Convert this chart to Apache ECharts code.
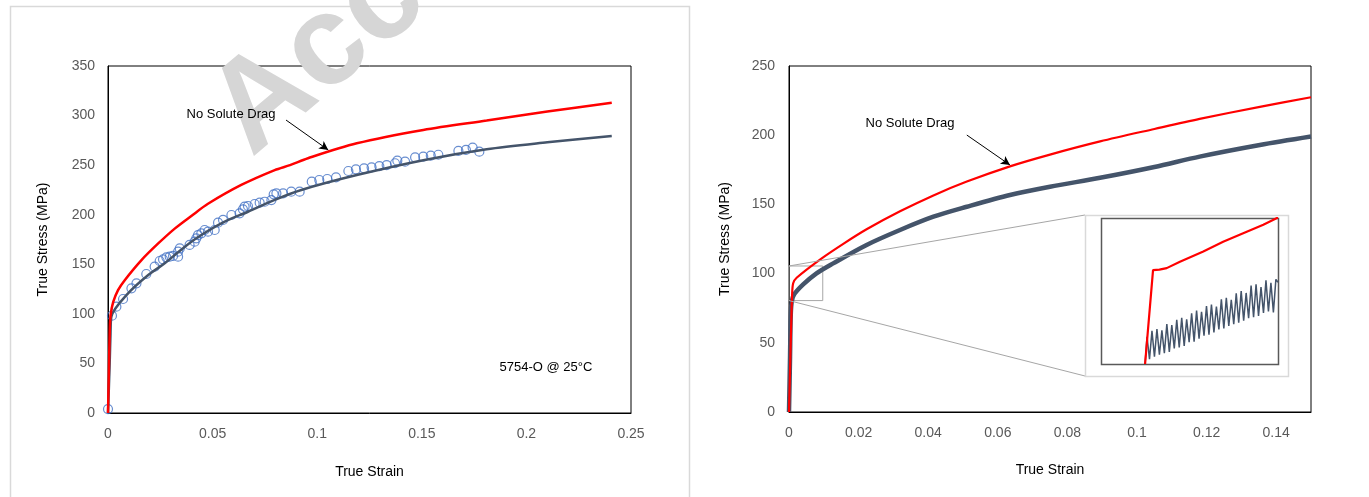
<!DOCTYPE html>
<html>
<head>
<meta charset="utf-8">
<script src="https://cdn.jsdelivr.net/npm/echarts@6/dist/echarts.min.js"></script>
<style>
  html, body { margin: 0; padding: 0; background: #fff; }
  #chart { width: 1369px; height: 497px; }
</style>
</head>
<body>
<div id="chart"></div>
<script>
// ---- Left panel: 5754-O at 25 C (strain, stress in MPa) ----
const leftNoDrag = [
  [0, 0], [0.0004, 40], [0.0008, 80], [0.0012, 98], [0.0025, 112], [0.0048, 124],
  [0.008, 134], [0.0159, 154], [0.024, 171], [0.0319, 186], [0.04, 199], [0.0478, 211],
  [0.0637, 230], [0.0797, 245], [0.087, 250], [0.0956, 257], [0.1189, 272],
  [0.1507, 285.5], [0.181, 295], [0.21, 304], [0.2408, 313]
];
const leftModel = [
  [0, 0], [0.0008, 50], [0.0012, 80], [0.0016, 97], [0.0096, 120.7], [0.0191, 139],
  [0.0271, 151], [0.0366, 167.5], [0.0446, 179.5], [0.0558, 193], [0.0669, 203],
  [0.0797, 215], [0.0924, 225], [0.1189, 240], [0.1507, 255], [0.181, 266],
  [0.21, 273], [0.2408, 279.5]
];
const leftMeasured = [
  [0, 4], [0.0019, 98.2], [0.004, 107.2], [0.0072, 115], [0.0112, 125.8], [0.0136, 130.8],
  [0.0183, 140.2], [0.0223, 147.6], [0.0247, 153.3], [0.0263, 155], [0.0279, 157],
  [0.0295, 157.7], [0.0311, 158.4], [0.0335, 162.7], [0.0343, 166], [0.0335, 157.7],
  [0.039, 169.5], [0.0414, 172.8], [0.0422, 176.2], [0.043, 179.5], [0.0446, 181.2],
  [0.0462, 184.6], [0.0478, 182.9], [0.051, 184.6], [0.0526, 192], [0.055, 194.7],
  [0.059, 199.7], [0.0629, 201.4], [0.0645, 205.4], [0.0653, 208.1], [0.0669, 208.8],
  [0.0701, 210.8], [0.0725, 212.1], [0.0749, 213.1], [0.0781, 214.8], [0.0792, 220.6],
  [0.0805, 221.6], [0.0837, 221.6], [0.0876, 223.2], [0.0916, 223.2], [0.0974, 233.3],
  [0.101, 235], [0.1048, 236], [0.109, 237.7], [0.1149, 244.1], [0.1185, 245.8],
  [0.1224, 246.8], [0.126, 247.8], [0.1297, 249.1], [0.1332, 250.1], [0.1372, 251.9],
  [0.1383, 254.5], [0.142, 253.5], [0.1468, 257.9], [0.1507, 258.5], [0.1543, 259.5],
  [0.1579, 260.5], [0.1675, 264.3], [0.1711, 265.3], [0.1743, 267.6], [0.1775, 263.6]
];

// ---- Right panel (strain, stress in MPa) ----
const rightNoDrag = [
  [0, 0], [0.0003, 30], [0.0006, 60], [0.0009, 85], [0.0012, 93], [0.0022, 97],
  [0.0094, 111], [0.0156, 121.5], [0.0223, 132], [0.0319, 145], [0.0415, 156.5],
  [0.0511, 166.5], [0.0635, 177.5], [0.075, 186], [0.0894, 195.5], [0.105, 204.5],
  [0.118, 211.8], [0.1353, 220.5], [0.15, 227.4]
];
const rightMeasured = [
  [0, 0], [0.0003, 40], [0.0005, 70], [0.0008, 80], [0.0015, 85], [0.004, 92],
  [0.0079, 100.2], [0.0127, 107.4], [0.0223, 120.7], [0.0319, 131.5], [0.0415, 141.1],
  [0.0511, 148.3], [0.0635, 156.8], [0.075, 162.8], [0.0894, 169.2], [0.105, 177],
  [0.118, 184.5], [0.1353, 192.9], [0.15, 199]
];

// ---- Inset: early-yield detail of the right panel ----
const insetNoDrag = [
  [0.00249, 80], [0.00294, 99.3], [0.0033, 99.4], [0.00371, 99.7], [0.00446, 101],
  [0.00578, 103.1], [0.0069, 105.1], [0.008, 106.8], [0.00917, 108.6], [0.01, 110.1]
];
const insetMeasured = [
  [0.00249, 80], [0.0026, 85.6], [0.00274, 81.0], [0.00288, 86.8], [0.00302, 81.5],
  [0.00316, 87.2], [0.0033, 81.9], [0.00344, 86.9], [0.00358, 82.2], [0.00372, 88.2],
  [0.00386, 82.5], [0.004, 88.0], [0.00414, 83.2], [0.00428, 89.1], [0.00442, 83.4],
  [0.00456, 89.5], [0.0047, 83.7], [0.00484, 89.2], [0.00498, 84.5], [0.00512, 90.4],
  [0.00526, 84.6], [0.0054, 91.0], [0.00554, 85.2], [0.00568, 90.7], [0.00582, 85.8],
  [0.00596, 91.9], [0.0061, 86.0], [0.00624, 92.2], [0.00638, 86.5], [0.00652, 91.8],
  [0.00666, 87.1], [0.0068, 93.3], [0.00694, 87.3], [0.00708, 93.6], [0.00722, 87.8],
  [0.00736, 93.2], [0.0075, 88.2], [0.00764, 94.5], [0.00778, 88.5], [0.00792, 95.0],
  [0.00806, 88.9], [0.0082, 94.6], [0.00834, 89.4], [0.00848, 96.1], [0.00862, 89.6],
  [0.00876, 96.4], [0.0089, 89.9], [0.00904, 95.8], [0.00918, 90.5], [0.00932, 97.2],
  [0.00946, 90.8], [0.0096, 96.7], [0.00974, 90.6], [0.00988, 97.4], [0.01, 96.8]
];

// Zoom window on the right panel that the inset enlarges
const zoomWindow = { strain: [0, 0.0097], stress: [80.5, 105.5] };

const FONT = '"Liberation Sans", Arial, sans-serif';
const RED = '#FF0000';
const SLATE = '#44546A';
const BLUE = '#4472C4';

function valueAxis(opts) {
  return Object.assign({
    type: 'value',
    axisLine: { show: true, onZero: false, lineStyle: { color: '#000', width: 1 } },
    axisTick: { show: false },
    splitLine: { show: false },
    axisLabel: { color: '#595959', fontSize: 14, fontFamily: FONT },
    nameLocation: 'middle',
    nameTextStyle: { color: '#000', fontSize: 14, fontFamily: FONT }
  }, opts);
}

const chart = echarts.init(document.getElementById('chart'), null, { renderer: 'canvas' });

const option = {
  animation: false,
  backgroundColor: '#fff',
  grid: [
    { left: 108, top: 66, width: 523, height: 347, show: true, borderColor: '#000', borderWidth: 1, backgroundColor: 'transparent' },
    { left: 789, top: 66, width: 522, height: 346, show: true, borderColor: '#000', borderWidth: 1, backgroundColor: 'transparent' },
    { left: 1101, top: 218, width: 177, height: 146, show: false }
  ],
  xAxis: [
    valueAxis({ gridIndex: 0, min: 0, max: 0.25, interval: 0.05, name: 'True Strain', nameGap: 52,
      axisLabel: { color: '#595959', fontSize: 14, fontFamily: FONT, margin: 14 } }),
    valueAxis({ gridIndex: 1, min: 0, max: 0.15, interval: 0.02, name: 'True Strain', nameGap: 51,
      axisLabel: { color: '#595959', fontSize: 14, fontFamily: FONT, margin: 14,
        formatter: v => (v > 0.145 ? '' : String(+v.toFixed(2))) } }),
    { type: 'value', gridIndex: 2, min: 0, max: 0.01, show: false }
  ],
  yAxis: [
    valueAxis({ gridIndex: 0, min: 0, max: 350, interval: 50, name: 'True Stress (MPa)', nameGap: 58,
      axisLabel: { color: '#595959', fontSize: 14, fontFamily: FONT, margin: 13 } }),
    valueAxis({ gridIndex: 1, min: 0, max: 250, interval: 50, name: 'True Stress (MPa)', nameGap: 57,
      axisLabel: { color: '#595959', fontSize: 14, fontFamily: FONT, margin: 14 } }),
    { type: 'value', gridIndex: 2, min: 80, max: 110, show: false }
  ],
  series: [
    {
      name: 'Measured', type: 'scatter', xAxisIndex: 0, yAxisIndex: 0, data: leftMeasured,
      symbol: 'circle', symbolSize: 9, z: 2,
      itemStyle: { color: 'rgba(0,0,0,0)', borderColor: BLUE, borderWidth: 1.2 }
    },
    {
      name: 'Model', type: 'line', xAxisIndex: 0, yAxisIndex: 0, data: leftModel,
      showSymbol: false, smooth: 0.3, z: 3, lineStyle: { color: SLATE, width: 2.5 }
    },
    {
      name: 'No Solute Drag', type: 'line', xAxisIndex: 0, yAxisIndex: 0, data: leftNoDrag,
      showSymbol: false, smooth: 0.3, z: 4, lineStyle: { color: RED, width: 2.5 },
      markLine: {
        silent: true, symbol: ['none', 'arrow'], symbolSize: [7, 9],
        lineStyle: { color: '#000', width: 1, type: 'solid' }, label: { show: false },
        data: [[{ coord: [0.0851, 295.5] }, { coord: [0.1053, 265.3] }]]
      }
    },
    {
      name: 'Measured', type: 'line', xAxisIndex: 1, yAxisIndex: 1, data: rightMeasured,
      showSymbol: false, smooth: 0.3, z: 3, lineStyle: { color: SLATE, width: 4.5 },
      markArea: {
        silent: true,
        itemStyle: { color: 'rgba(0,0,0,0)', borderColor: '#a6a6a6', borderWidth: 1 },
        data: [[{ coord: [zoomWindow.strain[0], zoomWindow.stress[1]] },
                { coord: [zoomWindow.strain[1], zoomWindow.stress[0]] }]]
      }
    },
    {
      name: 'No Solute Drag', type: 'line', xAxisIndex: 1, yAxisIndex: 1, data: rightNoDrag,
      showSymbol: false, smooth: 0.3, z: 4, lineStyle: { color: RED, width: 2.2 },
      markLine: {
        silent: true, symbol: ['none', 'arrow'], symbolSize: [7, 9],
        lineStyle: { color: '#000', width: 1, type: 'solid' }, label: { show: false },
        data: [[{ coord: [0.0511, 200.1] }, { coord: [0.0635, 178.5] }]]
      }
    },
    {
      name: 'Measured (detail)', type: 'line', xAxisIndex: 2, yAxisIndex: 2, data: insetMeasured,
      showSymbol: false, z: 20, lineStyle: { color: SLATE, width: 1.5 }
    },
    {
      name: 'No Solute Drag (detail)', type: 'line', xAxisIndex: 2, yAxisIndex: 2, data: insetNoDrag,
      showSymbol: false, z: 21, lineStyle: { color: RED, width: 2.2 }
    }
  ]
};

chart.setOption(option);

// Connector lines from the zoom window to the inset box
const zTop = chart.convertToPixel({ gridIndex: 1 }, [zoomWindow.strain[0], zoomWindow.stress[1]]);
const zBot = chart.convertToPixel({ gridIndex: 1 }, [zoomWindow.strain[0], zoomWindow.stress[0]]);
const inset = { x: 1085, y: 215, w: 203, h: 161 };

chart.setOption({
  graphic: [
    // panel frame
    { type: 'rect', z: 0, silent: true,
      shape: { x: 10.5, y: 6.5, width: 679, height: 520 },
      style: { fill: 'none', stroke: '#d9d9d9', lineWidth: 1.5 } },
    // watermark
    { type: 'text', z: 1, silent: true, x: 270, y: 180, rotation: 40 * Math.PI / 180,
      style: { text: 'Accepted Manuscript', fill: '#d6d6d6',
        font: 'bold 128px ' + FONT, textAlign: 'left', textVerticalAlign: 'bottom' } },
    // annotations
    { type: 'text', z: 30, silent: true, x: 231, y: 114,
      style: { text: 'No Solute Drag', fill: '#000', font: '13px ' + FONT, textAlign: 'center', textVerticalAlign: 'middle' } },
    { type: 'text', z: 30, silent: true, x: 546, y: 367,
      style: { text: '5754-O @ 25\u00B0C', fill: '#000', font: '13px ' + FONT, textAlign: 'center', textVerticalAlign: 'middle' } },
    { type: 'text', z: 30, silent: true, x: 910, y: 123,
      style: { text: 'No Solute Drag', fill: '#000', font: '13px ' + FONT, textAlign: 'center', textVerticalAlign: 'middle' } },
    // connectors
    { type: 'line', z: 5, silent: true,
      shape: { x1: zTop[0], y1: zTop[1], x2: inset.x, y2: inset.y },
      style: { stroke: '#a6a6a6', lineWidth: 1 } },
    { type: 'line', z: 5, silent: true,
      shape: { x1: zBot[0], y1: zBot[1], x2: inset.x, y2: inset.y + inset.h },
      style: { stroke: '#a6a6a6', lineWidth: 1 } },
    // inset box
    { type: 'rect', z: 6, silent: true,
      shape: { x: inset.x + 0.5, y: inset.y + 0.5, width: inset.w, height: inset.h },
      style: { fill: '#fff', stroke: '#d9d9d9', lineWidth: 1.5 } },
    { type: 'rect', z: 7, silent: true,
      shape: { x: 1101.5, y: 218.5, width: 177, height: 146 },
      style: { fill: 'none', stroke: '#595959', lineWidth: 1.5 } }
  ]
});
</script>
</body>
</html>
